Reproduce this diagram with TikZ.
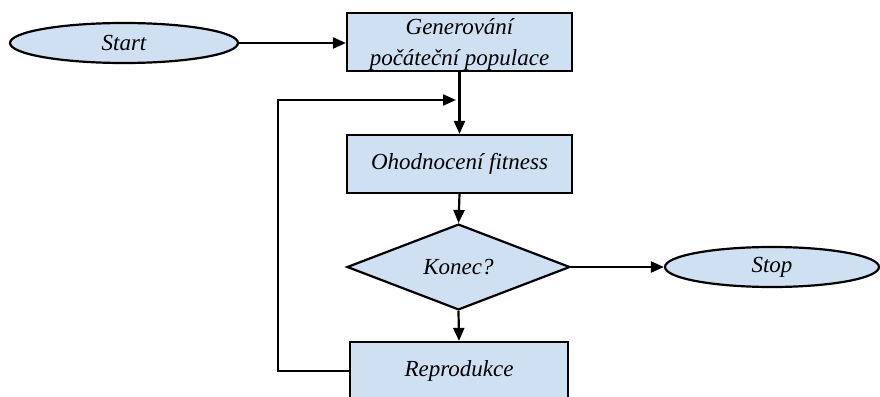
\documentclass[tikz,border=0pt]{standalone}
\usepackage{fontspec}
\setmainfont{Liberation Serif}
\usetikzlibrary{shapes.geometric,arrows.meta}
\definecolor{boxblue}{HTML}{CFE0F2}

\begin{document}
\begin{tikzpicture}[x=1pt,y=-1pt,
  every node/.style={font=\itshape\fontsize{23}{31}\selectfont},
  outline/.style={draw=black, line width=2.2pt, fill=boxblue, inner sep=0pt},
  procbox/.style={outline, rectangle, minimum width=225pt, minimum height=58pt},
  terminal/.style={outline, ellipse, minimum width=228pt, minimum height=40pt},
  decision/.style={outline, diamond, minimum width=223pt, minimum height=58pt},
  flow/.style={line width=2.2pt, -{Triangle[length=13pt,width=11pt]}}
]
\useasboundingbox (0,0) rectangle (880,396);

% process steps
\node[terminal] (start) at (124,43) {Start};
\node[procbox] (gen) at (459.5,42) {};
\node[align=center, inner sep=0pt] (genlbl) at (459.5,44) {Generování\\počáteční populace};
\node[procbox] (fit) at (459.5,164) {Ohodnocení fitness};
\node[decision] (dec) at (458.5,267) {Konec?};
\node[terminal, minimum width=214pt] (stop) at (772,267) {Stop};
\node[procbox, minimum width=218pt] (rep) at (459,371) {Reprodukce};

% feedback loop corners
\coordinate (loopa) at (278,371);
\coordinate (loopb) at (278,100);
\coordinate (loopend) at (456,100);

% connectors
\draw[flow] (start.east) -- (start.east -| gen.west);
\draw[flow] (gen.south) -- (fit.north);
\draw[flow] (fit.south) -- (dec.north);
\draw[flow] (dec.east) -- (stop.west);
\draw[flow] (dec.south) -- (rep.north);
\draw[flow] (rep.west) -- (loopa) -- (loopb) -- (loopend);
\end{tikzpicture}
\end{document}
